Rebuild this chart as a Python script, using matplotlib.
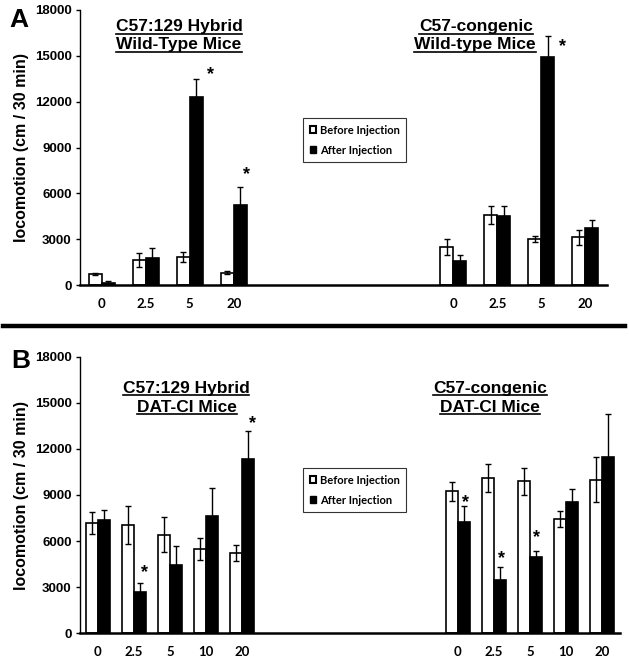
import numpy as np
import matplotlib.pyplot as plt
from matplotlib.patches import Patch
from matplotlib.lines import Line2D

W, H = 629, 662

# Panel A data (Wild-type)
doses_a = ['0', '2.5', '5', '20']
hyb_wt_before = [700, 1640, 1830, 800]
hyb_wt_before_err = [60, 430, 300, 110]
hyb_wt_after = [130, 1750, 12300, 5260]
hyb_wt_after_err = [110, 650, 1180, 1150]
con_wt_before = [2470, 4580, 2990, 3120]
con_wt_before_err = [520, 570, 200, 480]
con_wt_after = [1550, 4540, 14950, 3750]
con_wt_after_err = [440, 610, 1350, 520]

# Panel B data (DAT-CI)
doses_b = ['0', '2.5', '5', '10', '20']
hyb_dat_before = [7170, 7020, 6410, 5480, 5220]
hyb_dat_before_err = [720, 1240, 1150, 720, 520]
hyb_dat_after = [7390, 2650, 4460, 7610, 11370]
hyb_dat_after_err = [650, 610, 1240, 1850, 1780]
con_dat_before = [9240, 10110, 9890, 7440, 10000]
con_dat_before_err = [610, 910, 870, 540, 1480]
con_dat_after = [7260, 3430, 4960, 8520, 11480]
con_dat_after_err = [1000, 870, 410, 870, 2800]

# significance stars: (group, dose index) on the After bars
stars_a = [('left', 2), ('left', 3), ('right', 2)]
stars_b = [('left', 1), ('left', 4), ('right', 0), ('right', 1), ('right', 2)]

AR = 'Liberation Sans'
CAL = 'Lato'

fig = plt.figure(figsize=(W / 100, H / 100), dpi=100)


def px(x, y):
    return x / W, 1 - y / H


def draw_panel(ax, n_slots, right_start, doses, lb, lbe, la, lae, rb, rbe, ra, rae,
               width, stars, star_offsets):
    n = len(doses)
    left_x = np.arange(n)
    right_x = np.arange(n) + right_start
    ek = dict(ecolor='black', elinewidth=1.0, capsize=2.5, capthick=1.0)
    for xs, b, be, a, ae in [(left_x, lb, lbe, la, lae), (right_x, rb, rbe, ra, rae)]:
        ax.bar(xs - width / 2, b, width, yerr=be, color='white', edgecolor='black',
               linewidth=1.2, error_kw=ek, zorder=2)
        ax.bar(xs + width / 2, a, width, yerr=ae, color='black', edgecolor='black',
               linewidth=1.2, error_kw=ek, zorder=2)
    groups = {'left': (left_x, la, lae), 'right': (right_x, ra, rae)}
    for (g, i), (dx, dy) in zip(stars, star_offsets):
        xs, a, ae = groups[g]
        ax.annotate('*', (xs[i] + width / 2, a[i] + ae[i]), xytext=(dx, dy),
                    textcoords='offset pixels', ha='center', va='center',
                    fontsize=13, fontweight='bold', family=AR)
    ax.set_xlim(-0.5, n_slots - 0.5)
    ax.set_ylim(0, 18000)
    ax.set_yticks(np.arange(0, 18001, 3000))
    ax.set_xticks(list(left_x) + list(right_x))
    ax.set_xticklabels(doses + doses, family=CAL, fontweight='bold', fontsize=9.5)
    ax.tick_params(axis='x', length=0, pad=9)
    ax.tick_params(axis='y', length=3, width=1, direction='out', pad=3)
    for lab in ax.get_yticklabels():
        lab.set_family(AR)
        lab.set_fontweight('bold')
        lab.set_fontsize(9.5)
    ax.spines['top'].set_visible(False)
    ax.spines['right'].set_visible(False)
    ax.spines['left'].set_linewidth(1.0)
    ax.spines['bottom'].set_linewidth(1.8)
    ax.set_ylabel('locomotion (cm / 30 min)', family=AR, fontweight='bold',
                  fontsize=11.5, labelpad=4)
    leg = ax.legend(handles=[Patch(facecolor='white', edgecolor='black', linewidth=1.5),
                             Patch(facecolor='black', edgecolor='black')],
                    labels=['Before Injection', 'After Injection'],
                    loc='upper left', frameon=True, fancybox=False, borderaxespad=0,
                    handlelength=0.6, handleheight=0.6, handletextpad=0.3,
                    labelspacing=0.8, borderpad=0.6,
                    prop={'family': CAL, 'weight': 'bold', 'size': 8})
    leg.get_frame().set_edgecolor('black')
    leg.get_frame().set_linewidth(0.8)
    return leg


ax_a = fig.add_axes([80 / W, 1 - 285 / H, 527 / W, 275 / H])
leg_a = draw_panel(ax_a, 12, 8, doses_a, hyb_wt_before, hyb_wt_before_err, hyb_wt_after,
                   hyb_wt_after_err, con_wt_before, con_wt_before_err, con_wt_after,
                   con_wt_after_err, 0.295, stars_a, [(14, 4), (6, 12), (15, -11)])
leg_a.set_bbox_to_anchor(px(303, 118), transform=fig.transFigure)

ax_b = fig.add_axes([80 / W, 1 - 633 / H, 540 / W, 276 / H])
leg_b = draw_panel(ax_b, 15, 10, doses_b, hyb_dat_before, hyb_dat_before_err, hyb_dat_after,
                   hyb_dat_after_err, con_dat_before, con_dat_before_err, con_dat_after,
                   con_dat_after_err, 0.32, stars_b,
                   [(5, 10), (5, 8), (2, 4), (2, 8), (1, 13)])
leg_b.set_bbox_to_anchor(px(303, 468), transform=fig.transFigure)

# panel letters
fig.text(*px(19, 20), 'A', ha='center', va='center', fontsize=19, fontweight='bold', family=AR)
fig.text(*px(21, 361), 'B', ha='center', va='center', fontsize=19, fontweight='bold', family=AR)

# separator line
fig.add_artist(Line2D([3 / W, 625 / W], [1 - 326 / H, 1 - 326 / H], color='black',
                      linewidth=3.2, transform=fig.transFigure))

# underlined group titles
titles = [
    ('C57:129 Hybrid', 179, 27), ('Wild-Type Mice', 179, 45),
    ('C57-congenic', 476, 27), ('Wild-type Mice', 475, 45),
    ('C57:129 Hybrid', 186, 388), ('DAT-CI Mice', 187, 407),
    ('C57-congenic', 490, 388), ('DAT-CI Mice', 490, 407),
]
title_texts = [fig.text(*px(x, y), s, ha='center', va='center', fontsize=12.5,
                        fontweight='bold', family=AR) for s, x, y in titles]
fig.canvas.draw()
renderer = fig.canvas.get_renderer()
for t in title_texts:
    bb = t.get_window_extent(renderer).transformed(fig.transFigure.inverted())
    yline = bb.y0 + 1.0 / H
    fig.add_artist(Line2D([bb.x0, bb.x1], [yline, yline], color='black', linewidth=1.2,
                          transform=fig.transFigure))

fig.savefig('out.png', dpi=100)
